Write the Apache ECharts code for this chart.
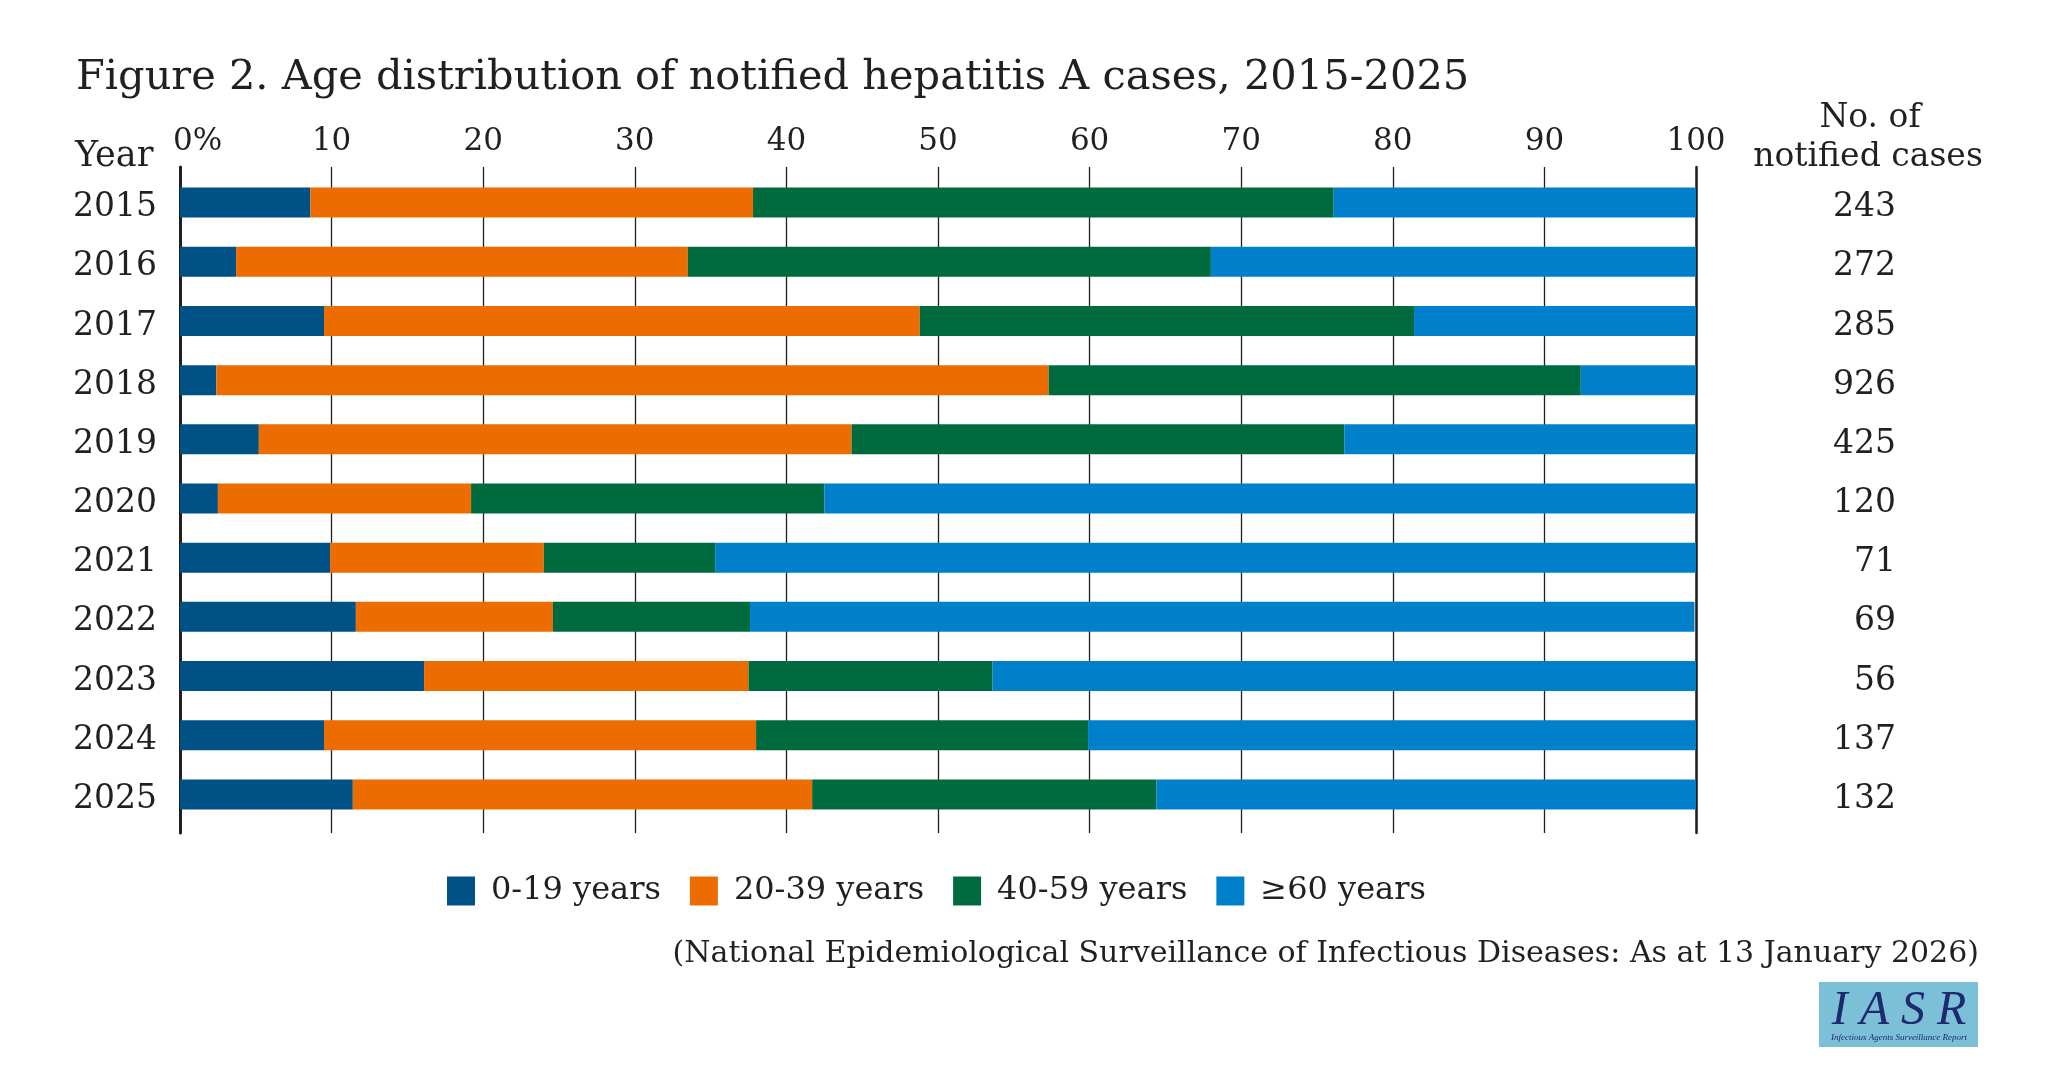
<!DOCTYPE html>
<html>
<head>
<meta charset="utf-8">
<script src="https://cdn.jsdelivr.net/npm/echarts@6/dist/echarts.min.js"></script>
<style>
  html, body { margin: 0; padding: 0; background: #fff; }
  #chart { width: 2048px; height: 1080px; }
</style>
</head>
<body>
<div id="chart"></div>
<script>
var years = ['2015', '2016', '2017', '2018', '2019', '2020', '2021', '2022', '2023', '2024', '2025'];
var cases = ['243', '272', '285', '926', '425', '120', '71', '69', '56', '137', '132'];
var ageGroups = ['0-19 years', '20-39 years', '40-59 years', '\u226560 years'];
var age0to19 = [8.6, 3.7, 9.5, 2.4, 5.2, 2.5, 9.9, 11.6, 16.1, 9.5, 11.4];
var age20to39 = [29.2, 29.8, 39.3, 54.9, 39.1, 16.7, 14.1, 13.0, 21.4, 28.5, 30.3];
var age40to59 = [38.3, 34.5, 32.6, 35.1, 32.5, 23.3, 11.3, 13.0, 16.1, 21.9, 22.7];
var age60plus = [23.9, 32.0, 18.6, 7.7, 23.3, 57.5, 64.8, 62.3, 46.4, 40.1, 35.6];
var colors = ['#005185', '#ec6c00', '#006a3f', '#0080cb'];

var FONT = '"DejaVu Serif", serif';
var INK = '#231f20';

var myChart = echarts.init(document.getElementById('chart'));

function barSeries(name, values) {
    return {
        name: name,
        type: 'bar',
        stack: 'total',
        xAxisIndex: 0,
        yAxisIndex: 0,
        barWidth: 30,
        emphasis: { disabled: true },
        data: values
    };
}

// row labels sit a little below the bar centre in the original
var rowLabelRich = { r: { fontFamily: FONT, fontSize: 33, color: INK, padding: [10, 0, 0, 0] } };
function rowLabel(v) { return '{r|' + v + '}'; }

option = {
    animation: false,
    color: colors,
    title: {
        text: 'Figure 2. Age distribution of notified hepatitis A cases, 2015-2025',
        left: 71,
        top: 52,
        textStyle: { fontFamily: FONT, fontSize: 41.5, fontWeight: 'normal', color: INK }
    },
    legend: {
        data: ageGroups,
        left: 442,
        top: 870,
        icon: 'rect',
        itemWidth: 28,
        itemHeight: 29,
        itemGap: 29,
        textStyle: { fontFamily: FONT, fontSize: 32, color: INK, padding: [0, 0, 0, 11] }
    },
    grid: [
        { left: 180, width: 1516, top: 173, height: 651 },
        { left: 180, width: 1516, top: 167, height: 666 }
    ],
    xAxis: [
        { gridIndex: 0, type: 'value', min: 0, max: 100, show: false },
        {
            gridIndex: 1, type: 'value', min: 0, max: 100, interval: 10, position: 'top',
            axisLine: { show: false },
            axisTick: { show: false },
            splitLine: { show: true, lineStyle: { color: INK, width: 1.3 } },
            axisLabel: {
                margin: 10,
                fontFamily: FONT, fontSize: 31, color: INK,
                formatter: function (v) { return v === 0 ? '{p|0%}' : String(v); },
                rich: { p: { fontFamily: FONT, fontSize: 31, color: INK, padding: [0, 0, 0, 35] } }
            }
        }
    ],
    yAxis: [
        {
            gridIndex: 0, type: 'category', data: years, inverse: true,
            axisLine: { show: false }, axisTick: { show: false },
            axisLabel: { margin: 23, fontFamily: FONT, fontSize: 33, color: INK, formatter: rowLabel, rich: rowLabelRich }
        },
        {
            gridIndex: 0, type: 'category', data: cases, inverse: true, position: 'right',
            axisLine: { show: false }, axisTick: { show: false },
            axisLabel: { margin: 200, align: 'right', fontFamily: FONT, fontSize: 33, color: INK, formatter: rowLabel, rich: rowLabelRich }
        },
        {
            gridIndex: 1, type: 'value', position: 'left',
            axisLine: { show: true, lineStyle: { color: INK, width: 3 } },
            axisTick: { show: false }, axisLabel: { show: false }, splitLine: { show: false }
        },
        {
            gridIndex: 1, type: 'value', position: 'right',
            axisLine: { show: true, lineStyle: { color: INK, width: 2.5 } },
            axisTick: { show: false }, axisLabel: { show: false }, splitLine: { show: false }
        }
    ],
    graphic: [
        {
            type: 'text', left: 75, top: 139,
            style: { text: 'Year', fontFamily: FONT, fontSize: 35, fill: INK }
        },
        {
            type: 'text', x: 1870, y: 118,
            style: { text: 'No. of', fontFamily: FONT, fontSize: 33, fill: INK, align: 'center', verticalAlign: 'middle' }
        },
        {
            type: 'text', x: 1868, y: 157,
            style: { text: 'notified cases', fontFamily: FONT, fontSize: 33, fill: INK, align: 'center', verticalAlign: 'middle' }
        },
        {
            type: 'text', x: 1979, y: 954,
            style: {
                text: '(National Epidemiological Surveillance of Infectious Diseases: As at 13 January 2026)',
                fontFamily: FONT, fontSize: 30, fill: INK, align: 'right', verticalAlign: 'middle'
            }
        },
        {
            type: 'rect', shape: { x: 1819, y: 982, width: 159, height: 65 },
            style: { fill: '#7cc0d8' }
        },
        {
            type: 'text', x: 1899, y: 1011,
            style: {
                text: 'I A S R', fontFamily: '"Liberation Serif", serif', fontStyle: 'italic',
                fontSize: 48, fill: '#1d2a6e', align: 'center', verticalAlign: 'middle'
            }
        },
        {
            type: 'text', x: 1899, y: 1038,
            style: {
                text: 'Infectious Agents Surveillance Report', fontFamily: '"Liberation Serif", serif',
                fontStyle: 'italic', fontSize: 9, fill: '#1d2a6e', align: 'center', verticalAlign: 'middle'
            }
        }
    ],
    series: [
        barSeries(ageGroups[0], age0to19),
        barSeries(ageGroups[1], age20to39),
        barSeries(ageGroups[2], age40to59),
        barSeries(ageGroups[3], age60plus)
    ]
};
myChart.setOption(option);
</script>
</body>
</html>
